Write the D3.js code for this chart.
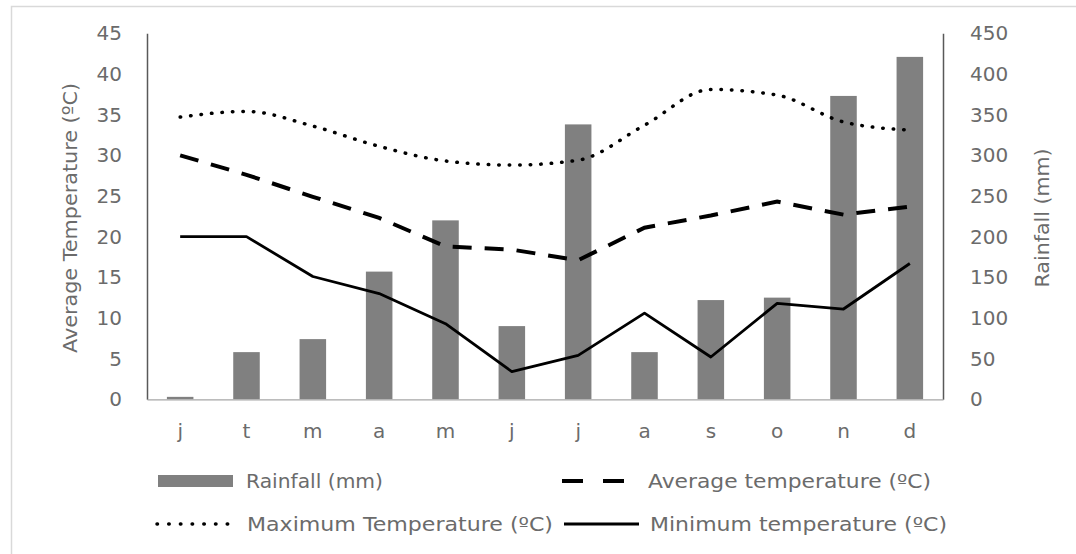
<!DOCTYPE html>
<html lang="en">
<head>
<meta charset="utf-8">
<title>Climate chart</title>
<script src="https://cdn.jsdelivr.net/npm/d3@7/dist/d3.min.js"></script>
<style>
  body { margin: 0; background: #fff; }
  text { font-family: "DejaVu Sans", sans-serif; fill: #6b6b6b; }
</style>
</head>
<body>
<div id="main"></div>
<script>
// data
var months = ['j','t','m','a','m','j','j','a','s','o','n','d']
var rainfall = [3, 58, 74, 157, 220, 90, 338, 58, 122, 125, 373, 421]
var avgTemp = [30.0, 27.6, 24.9, 22.3, 18.8, 18.4, 17.1, 21.1, 22.6, 24.3, 22.7, 23.7]
var maxTemp = [34.7, 35.4, 33.6, 31.1, 29.3, 28.8, 29.4, 33.7, 38.1, 37.4, 34.1, 33.1]
var minTemp = [20, 20, 15.1, 13.0, 9.3, 3.4, 5.4, 10.6, 5.2, 11.8, 11.1, 16.7]
var tempTicks = [0,5,10,15,20,25,30,35,40,45]
var rainTicks = [0,50,100,150,200,250,300,350,400,450]

var width = 1076, height = 554
var pLeft = 147, pRight = 943, pTop = 33.3, pBottom = 399.3

var svg = d3.select("#main").append("svg").attr("width",width).attr("height",height)

// outer frame
svg.append("rect").attr("x",11.5).attr("y",6.5).attr("width",1080).attr("height",600)
  .attr("fill","none").attr("stroke","#d9d9d9").attr("stroke-width",1.5)

var idx = d3.range(months.length)
var x = d3.scaleBand().domain(idx).range([pLeft,pRight]).paddingInner(0.6).paddingOuter(0.3)
var xc = function(i){ return x(i)+x.bandwidth()/2 }
var yT = d3.scaleLinear().domain([0,45]).range([pBottom,pTop])
var yR = d3.scaleLinear().domain([0,450]).range([pBottom,pTop])

// bars
svg.selectAll("rect.bar").data(rainfall).enter().append("rect").attr("class","bar")
  .attr("x",function(d,i){return x(i)})
  .attr("width",x.bandwidth())
  .attr("y",function(d){return yR(d)})
  .attr("height",function(d){return yR(0)-yR(d)})
  .attr("fill","#808080")

// axes
var axL = svg.append("g").attr("transform","translate("+pLeft+",0)")
  .call(d3.axisLeft(yT).tickValues(tempTicks).tickSize(0).tickPadding(25))
var axR = svg.append("g").attr("transform","translate("+pRight+",0)")
  .call(d3.axisRight(yR).tickValues(rainTicks).tickSize(0).tickPadding(27))
var axB = svg.append("g").attr("transform","translate(0,"+pBottom+")")
  .call(d3.axisBottom(x).tickFormat(function(i){return months[i]}).tickSize(0).tickPadding(25))
axL.select(".domain").attr("stroke","#595959").attr("stroke-width",1.5)
axR.select(".domain").attr("stroke","#595959").attr("stroke-width",1.5)
axB.select(".domain").attr("stroke","#a6a6a6").attr("stroke-width",1.2)
svg.selectAll(".tick text").style("font-size","20px").attr("fill","#6b6b6b")
svg.selectAll("g").attr("font-family",null)

// axis titles
svg.append("text").attr("transform","translate(77,218) rotate(-90)")
  .attr("text-anchor","middle").style("font-size","20px")
  .attr("textLength",270).attr("lengthAdjust","spacingAndGlyphs").text("Average Temperature (ºC)")
svg.append("text").attr("transform","translate(1049,218) rotate(-90)")
  .attr("text-anchor","middle").style("font-size","20px")
  .attr("textLength",139).attr("lengthAdjust","spacingAndGlyphs").text("Rainfall (mm)")

// lines
var line = function(arr, curve){
  return d3.line().x(function(d,i){return xc(i)}).y(function(d){return yT(d)}).curve(curve)(arr)
}
svg.append("path").attr("d",line(maxTemp,d3.curveMonotoneX)).attr("fill","none").attr("stroke","#000")
  .attr("stroke-width",3.5).attr("stroke-linecap","round").attr("stroke-dasharray","0.5 10")
svg.append("path").attr("d",line(avgTemp,d3.curveLinear)).attr("fill","none").attr("stroke","#000")
  .attr("stroke-width",4).attr("stroke-dasharray","19 13")
svg.append("path").attr("d",line(minTemp,d3.curveLinear)).attr("fill","none").attr("stroke","#000")
  .attr("stroke-width",2.8).attr("stroke-linejoin","round")

// legend
var legend = [
  {name:"Rainfall (mm)", kind:"bar", x:158, y:481, tx:246, len:137},
  {name:"Average temperature (ºC)", kind:"avg", x:562, y:481, tx:648, len:283},
  {name:"Maximum Temperature (ºC)", kind:"max", x:157, y:524, tx:247, len:306},
  {name:"Minimum temperature (ºC)", kind:"min", x:564, y:524, tx:650, len:297}
]
var lg = svg.append("g").selectAll("g").data(legend).enter().append("g")
lg.each(function(d){
  var g = d3.select(this)
  if (d.kind=="bar") g.append("rect").attr("x",d.x).attr("y",d.y-6).attr("width",75).attr("height",12).attr("fill","#808080")
  if (d.kind=="avg") g.append("line").attr("x1",d.x).attr("x2",d.x+62).attr("y1",d.y).attr("y2",d.y)
    .attr("stroke","#000").attr("stroke-width",4).attr("stroke-dasharray","21 20")
  if (d.kind=="max") g.append("line").attr("x1",d.x).attr("x2",d.x+71).attr("y1",d.y).attr("y2",d.y)
    .attr("stroke","#000").attr("stroke-width",3.5).attr("stroke-linecap","round").attr("stroke-dasharray","0.5 11.2")
  if (d.kind=="min") g.append("line").attr("x1",d.x).attr("x2",d.x+75).attr("y1",d.y).attr("y2",d.y)
    .attr("stroke","#000").attr("stroke-width",2.8)
  g.append("text").attr("x",d.tx).attr("y",d.y+7).style("font-size","19px")
    .attr("textLength",d.len).attr("lengthAdjust","spacingAndGlyphs").text(d.name)
})
</script>
</body>
</html>
